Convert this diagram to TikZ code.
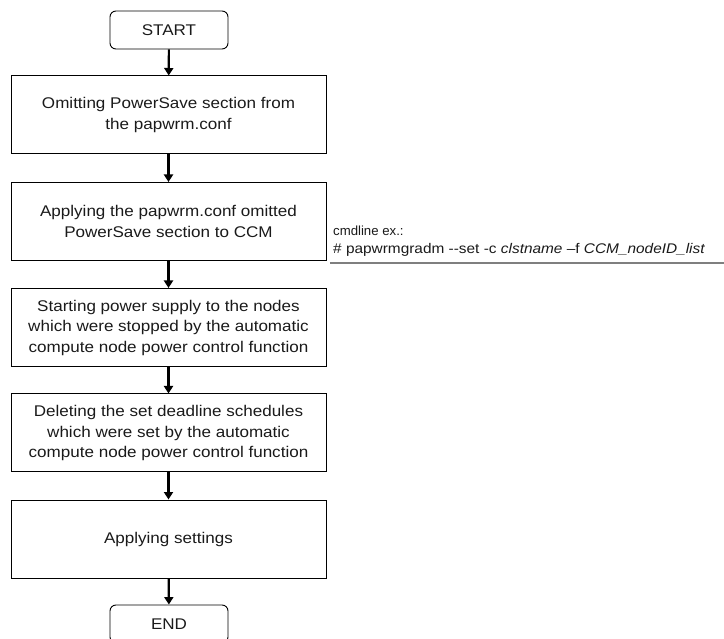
\documentclass[tikz,border=0pt]{standalone}
\usepackage{fontspec}
\setmainfont{Liberation Sans}
\newfontfamily\widesans{Liberation Sans}[FakeStretch=1.1]
\usetikzlibrary{arrows.meta}
\definecolor{inkgray}{HTML}{1A1A1A}
\definecolor{rulegray}{HTML}{7F7F7F}
\begin{document}
\begin{tikzpicture}[x=1pt,y=-1pt,
  stepbox/.style={draw=black, line width=1pt, minimum width=315pt, minimum height=78pt,
    align=center, text=inkgray, inner sep=0pt, font=\widesans\fontsize{15.5}{20.5}\selectfont},
  termbox/.style={draw=black, line width=0.9pt, rounded corners=6pt, minimum width=118pt,
    minimum height=38pt, text=inkgray, inner sep=0pt, font=\widesans\fontsize{15.5}{20.5}\selectfont},
  flow/.style={line width=2.2pt, -{Triangle[length=7.5pt,width=9pt]}},
  cmdtext/.style={anchor=base west, inner sep=0pt, text=inkgray}]
\useasboundingbox (0,0) rectangle (724,639);

% flow steps
\node[termbox] (start) at (169,30) {START};
\node[stepbox] (s1) at (168.5,115) {Omitting PowerSave section from\\the papwrm.conf};
\node[stepbox] (s2) at (168.5,221.5) {Applying the papwrm.conf omitted\\PowerSave section to CCM};
\node[stepbox] (s3) at (168.5,327.5) {Starting power supply to the nodes\\which were stopped by the automatic\\compute node power control function};
\node[stepbox] (s4) at (168.5,433) {Deleting the set deadline schedules\\which were set by the automatic\\compute node power control function};
\node[stepbox] (s5) at (168.5,539) {Applying settings};
\node[termbox] (end) at (169,624) {END};

% connectors
\draw[flow] (start) -- (s1);
\draw[flow] (s1) -- (s2);
\draw[flow] (s2) -- (s3);
\draw[flow] (s3) -- (s4);
\draw[flow] (s4) -- (s5);
\draw[flow] (s5) -- (end);

% command line note beside step 2
\node[cmdtext, font=\fontsize{13.2}{16}\selectfont] (cmd1) at (333,236) {cmdline ex.:};
\node[cmdtext, font=\widesans\fontsize{14}{16}\selectfont] (cmd2) at (333,254)
  {\# papwrmgradm -{}-set -c \textit{clstname} –f \textit{CCM\_nodeID\_list}};
\coordinate (ulA) at (330,263);
\coordinate (ulB) at (724,263);
\draw[rulegray, line width=1.6pt] (ulA) -- (ulB);
\end{tikzpicture}
\end{document}
